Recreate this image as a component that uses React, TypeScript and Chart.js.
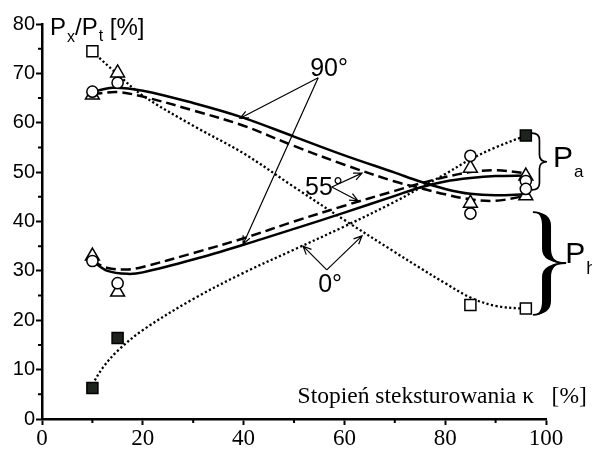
import React, { useEffect, useRef } from 'react';
import { Chart, registerables } from 'chart.js';

Chart.register(...registerables);

// ---- axis ticks ----
const xTickValues = [0, 20, 40, 60, 80, 100];
const yTickValues = [0, 10, 20, 30, 40, 50, 60, 70, 80];
const xMinorTicks = [10, 30, 50, 70, 90];
const yMinorTicks = [5, 15, 25, 35, 45, 55, 65, 75];

// ---- fitted curves ----
// 90° (solid)
const solidDescX = [10, 14, 20, 30, 40, 50, 60, 70, 75, 80, 85, 90, 96];
const solidDescY = [66.2, 67.1, 66.5, 64.0, 61.0, 57.2, 53.4, 49.9, 48.1, 46.6, 45.6, 45.3, 45.5];
const solidAscX = [10, 13, 17, 20, 30, 40, 50, 60, 70, 75, 80, 85, 90, 96];
const solidAscY = [32.0, 30.0, 29.4, 29.7, 32.3, 35.3, 38.5, 41.8, 45.2, 46.9, 48.1, 48.8, 49.2, 49.3];
// 55° (dashed)
const dashDescX = [10, 15, 20, 30, 40, 50, 60, 70, 75, 80, 85, 90, 96];
const dashDescY = [65.8, 66.2, 65.3, 62.5, 59.4, 55.3, 51.5, 48.1, 46.8, 45.5, 44.5, 44.2, 45.2];
const dashAscX = [10, 13, 17, 20, 30, 40, 50, 60, 70, 75, 80, 85, 90, 96];
const dashAscY = [32.0, 30.6, 30.3, 30.8, 33.6, 36.6, 40.0, 43.2, 46.2, 47.7, 49.0, 50.0, 50.4, 49.8];
// 0° (dotted)
const dotDescX = [10, 15, 20, 30, 40, 50, 60, 70, 75, 80, 85, 90, 96];
const dotDescY = [74.4, 69.8, 65.5, 59.4, 53.8, 47.0, 40.3, 33.8, 30.6, 27.5, 24.6, 22.9, 22.3];
const dotAscX = [10, 12, 15, 20, 30, 40, 50, 60, 70, 75, 80, 85, 90, 96];
const dotAscY = [7.0, 10.3, 13.8, 18.0, 24.3, 29.6, 34.3, 39.0, 44.0, 46.8, 49.6, 52.6, 55.0, 57.4];

// ---- measured points ----
const openSqX = [10, 85, 96];
const openSqY = [74.5, 23.1, 22.4];
const filledSqX = [10, 15, 96];
const filledSqY = [6.3, 16.4, 57.4];
const circX = [10, 15, 85, 96, 10, 15, 85, 96];
const circY = [66.3, 68.1, 53.3, 48.2, 32.0, 27.5, 41.6, 46.6];
const triX = [10, 15, 85, 96, 10, 15, 85, 96];
const triY = [65.6, 70.1, 50.8, 49.2, 33.0, 25.7, 43.7, 45.2];

// ---- annotations (data units) ----
const degLabels = ['90°', '55°', '0°'];
const degLabelX = [53.2, 52.2, 54.8];
const degLabelY = [69.5, 45.4, 25.7];
const arrowFromX = [54.8, 54.8, 57.5, 57.5, 56.5, 56.5];
const arrowFromY = [69.1, 69.1, 47.0, 47.0, 30.2, 30.2];
const arrowToX = [39.3, 39.9, 63.5, 62.7, 51.8, 63.5];
const arrowToY = [60.9, 35.4, 49.8, 44.2, 35.0, 37.1];

const pts = (xs: number[], ys: number[]) => xs.map((x, i) => ({ x, y: ys[i] }));

const SANS = "'Liberation Sans', Arial, sans-serif";
const SERIF = "'Liberation Serif', 'Times New Roman', serif";

function drawArrow(ctx: CanvasRenderingContext2D, x1: number, y1: number, x2: number, y2: number) {
  ctx.beginPath();
  ctx.moveTo(x1, y1);
  ctx.lineTo(x2, y2);
  const a = Math.atan2(y2 - y1, x2 - x1);
  const len = 9;
  const sp = 0.42;
  ctx.moveTo(x2 - len * Math.cos(a - sp), y2 - len * Math.sin(a - sp));
  ctx.lineTo(x2, y2);
  ctx.lineTo(x2 - len * Math.cos(a + sp), y2 - len * Math.sin(a + sp));
  ctx.stroke();
}

function bracePath(ctx: CanvasRenderingContext2D, x0: number, x1: number, xm: number, top: number, mid: number, bottom: number, q: number) {
  ctx.moveTo(x0, top);
  ctx.quadraticCurveTo(xm, top, xm, top + q);
  ctx.lineTo(xm, mid - q);
  ctx.quadraticCurveTo(xm, mid, x1, mid);
  ctx.quadraticCurveTo(xm, mid, xm, mid + q);
  ctx.lineTo(xm, bottom - q);
  ctx.quadraticCurveTo(xm, bottom, x0, bottom);
}

const annotPlugin = {
  id: 'annot',
  afterDraw(chart: any) {
    const ctx: CanvasRenderingContext2D = chart.ctx;
    const xs = chart.scales.x;
    const ys = chart.scales.y;
    const px = (v: number) => xs.getPixelForValue(v);
    const py = (v: number) => ys.getPixelForValue(v);
    const area = chart.chartArea;
    ctx.save();
    ctx.strokeStyle = '#000';
    ctx.fillStyle = '#000';

    // minor ticks
    ctx.lineWidth = 2;
    ctx.beginPath();
    yMinorTicks.forEach((v) => {
      const y = py(v);
      ctx.moveTo(area.left - 4, y);
      ctx.lineTo(area.left, y);
    });
    xMinorTicks.forEach((v) => {
      const x = px(v);
      ctx.moveTo(x, area.bottom);
      ctx.lineTo(x, area.bottom + 4);
    });
    ctx.stroke();

    // arrows
    ctx.lineWidth = 1.2;
    arrowFromX.forEach((_, i) => {
      drawArrow(ctx, px(arrowFromX[i]), py(arrowFromY[i]), px(arrowToX[i]), py(arrowToY[i]));
    });

    // degree labels
    ctx.font = `25px ${SANS}`;
    ctx.textAlign = 'left';
    ctx.textBaseline = 'alphabetic';
    degLabels.forEach((t, i) => ctx.fillText(t, px(degLabelX[i]), py(degLabelY[i])));

    // Pa brace (thin)
    {
      const x0 = px(97.2), x1 = px(100.2);
      const top = py(57.9), mid = py(52.1), bottom = py(46.4);
      ctx.lineWidth = 1.7;
      ctx.beginPath();
      bracePath(ctx, x0, x1, (x0 + x1) / 2, top, mid, bottom, 7);
      ctx.stroke();
    }
    // Ph brace (heavy)
    {
      const x0 = px(97.4), x1 = px(104.0);
      const top = py(41.9), mid = py(31.6), bottom = py(21.1);
      const xm = (x0 + x1) / 2 - 3;
      const t = 9;
      const q = 14;
      const a = xm - t / 2;
      const b = xm + t / 2;
      ctx.beginPath();
      ctx.moveTo(x0, top);
      ctx.quadraticCurveTo(b, top, b, top + q);
      ctx.lineTo(b, mid - q);
      ctx.quadraticCurveTo(b, mid, x1, mid);
      ctx.quadraticCurveTo(b, mid, b, mid + q);
      ctx.lineTo(b, bottom - q);
      ctx.quadraticCurveTo(b, bottom, x0, bottom);
      ctx.quadraticCurveTo(a, bottom, a, bottom - q);
      ctx.lineTo(a, mid + q);
      ctx.quadraticCurveTo(a, mid, x1, mid);
      ctx.quadraticCurveTo(a, mid, a, mid - q);
      ctx.lineTo(a, top + q);
      ctx.quadraticCurveTo(a, top, x0, top);
      ctx.closePath();
      ctx.fill();
      ctx.lineWidth = 1.8;
      ctx.beginPath();
      bracePath(ctx, x0, x1, xm, top, mid, bottom, q);
      ctx.stroke();
    }

    // P_a, P_h
    const sub = (main: string, s: string, x: number, y: number, mainSize: number, subSize: number, drop: number) => {
      ctx.font = `${mainSize}px ${SANS}`;
      ctx.fillText(main, x, y);
      const w = ctx.measureText(main).width;
      ctx.font = `${subSize}px ${SANS}`;
      ctx.fillText(s, x + w + 1, y + drop);
      return x + w + 1 + ctx.measureText(s).width;
    };
    sub('P', 'a', px(101.4), py(51.0), 30, 17, 10);
    sub('P', 'h', px(103.8), py(31.6), 30, 18, 11);

    // y axis title P_x/P_t [%]
    {
      let x = px(1.6);
      const y = py(77.8);
      x = sub('P', 'x', x, y, 24, 16, 7);
      ctx.font = `24px ${SANS}`;
      ctx.fillText('/', x, y);
      x += ctx.measureText('/').width;
      x = sub('P', 't', x, y, 24, 16, 6);
      ctx.font = `24px ${SANS}`;
      ctx.fillText(' [%]', x, y);
    }

    // x axis title
    ctx.font = `23.5px ${SERIF}`;
    ctx.textAlign = 'right';
    ctx.fillText('Stopień steksturowania κ   [%]', px(108.1), py(3.2));

    ctx.restore();
  },
};

export default function App() {
  const ref = useRef<HTMLCanvasElement | null>(null);

  useEffect(() => {
    if (!ref.current) return;
    const lineBase = {
      showLine: true,
      pointRadius: 0,
      borderColor: '#000',
      borderWidth: 2.5,
      fill: false,
      tension: 0.35,
      clip: false as any,
      order: 1,
    };
    const markerBase = {
      showLine: false,
      borderColor: '#000',
      borderWidth: 1.5,
      clip: false as any,
      order: 0,
    };
    const chart = new Chart(ref.current, {
      type: 'scatter',
      data: {
        datasets: [
          { ...lineBase, data: pts(solidDescX, solidDescY) },
          { ...lineBase, data: pts(solidAscX, solidAscY) },
          { ...lineBase, data: pts(dashDescX, dashDescY), borderDash: [10, 5] },
          { ...lineBase, data: pts(dashAscX, dashAscY), borderDash: [10, 5] },
          { ...lineBase, data: pts(dotDescX, dotDescY), borderWidth: 2.3, borderDash: [2.2, 2.4] },
          { ...lineBase, data: pts(dotAscX, dotAscY), borderWidth: 2.3, borderDash: [2.2, 2.4] },
          { ...markerBase, data: pts(circX, circY), pointStyle: 'circle', pointRadius: 5.6, backgroundColor: '#fff' },
          { ...markerBase, data: pts(triX, triY), pointStyle: 'triangle', pointRadius: 8, backgroundColor: '#fff' },
          { ...markerBase, data: pts(openSqX, openSqY), pointStyle: 'rect', pointRadius: 7.8, backgroundColor: '#fff' },
          { ...markerBase, data: pts(filledSqX, filledSqY), pointStyle: 'rect', pointRadius: 7.8, backgroundColor: '#1d231d' },
        ] as any,
      },
      options: {
        animation: false,
        responsive: false,
        devicePixelRatio: 1,
        layout: { padding: { top: 24, right: 46, left: 0, bottom: 0 } },
        plugins: { legend: { display: false }, tooltip: { enabled: false } },
        elements: { line: { borderCapStyle: 'butt' } },
        scales: {
          x: {
            type: 'linear',
            min: 0,
            max: 100,
            afterBuildTicks: (s: any) => { s.ticks = xTickValues.map((v) => ({ value: v })); },
            afterFit: (s: any) => { s.height = 31; },
            ticks: { color: '#000', font: { family: SERIF, size: 23 }, padding: 0, maxRotation: 0, autoSkip: false },
            grid: { drawOnChartArea: false, drawTicks: true, tickLength: 6, tickWidth: 2, tickColor: '#000' },
            border: { display: true, color: '#000', width: 2.5 },
          },
          y: {
            type: 'linear',
            min: 0,
            max: 80,
            afterBuildTicks: (s: any) => { s.ticks = yTickValues.map((v) => ({ value: v })); },
            afterFit: (s: any) => { s.width = 42; },
            ticks: { color: '#000', font: { family: SANS, size: 20 }, padding: 1, autoSkip: false },
            grid: { drawOnChartArea: false, drawTicks: true, tickLength: 6, tickWidth: 2, tickColor: '#000' },
            border: { display: true, color: '#000', width: 2.5 },
          },
        },
      } as any,
      plugins: [annotPlugin],
    });
    return () => chart.destroy();
  }, []);

  return (
    <div style={{ position: 'absolute', left: 0, top: 0, width: 592, height: 450, background: '#fff' }}>
      <canvas ref={ref} width={592} height={450} style={{ width: 592, height: 450, display: 'block' }} />
    </div>
  );
}
